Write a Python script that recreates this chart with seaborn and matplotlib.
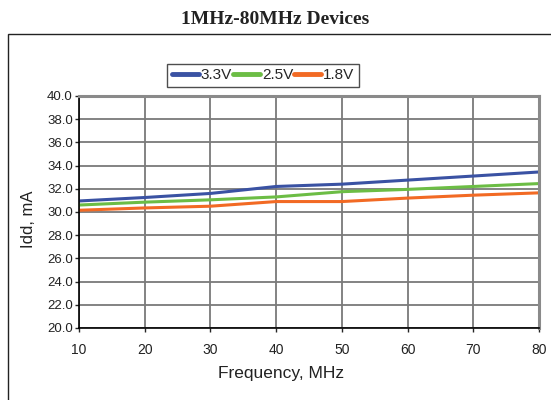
import numpy as np
import pandas as pd
import seaborn as sns
import matplotlib.pyplot as plt
from matplotlib.patches import Rectangle

freq = [10, 20, 30, 40, 50, 60, 70, 80]
idd_33 = [30.95, 31.25, 31.6, 32.2, 32.4, 32.75, 33.1, 33.45]
idd_25 = [30.6, 30.85, 31.05, 31.3, 31.75, 31.95, 32.2, 32.45]
idd_18 = [30.15, 30.35, 30.5, 30.9, 30.9, 31.2, 31.45, 31.65]
labels = ['3.3V', '2.5V', '1.8V']
colors = ['#3a52a3', '#6cbd45', '#f26a24']

df = pd.DataFrame({
    'freq': freq * 3,
    'idd': idd_33 + idd_25 + idd_18,
    'volt': [labels[0]] * 8 + [labels[1]] * 8 + [labels[2]] * 8,
})

sns.set_style('white')
plt.rcParams['font.family'] = ['Liberation Sans', 'DejaVu Sans']

fig = plt.figure(figsize=(5.51, 4.0), dpi=100)
ax = fig.add_axes([0.1434, 0.18, 0.8348, 0.58])

# outer frame of the figure panel
fig.patches.append(Rectangle((8 / 551, -0.05), 1.0, 1 - 34 / 400 + 0.05,
                             transform=fig.transFigure, fill=False,
                             edgecolor='#222222', linewidth=1.0, clip_on=False))

sns.lineplot(data=df, x='freq', y='idd', hue='volt', palette=colors,
             linewidth=2.2, ax=ax)

ax.set_xlim(10, 80)
ax.set_ylim(20, 40)
ax.set_xticks(freq)
ax.set_yticks(np.arange(20, 40.1, 2))
ax.set_yticklabels([f'{v:.1f}' for v in np.arange(20, 40.1, 2)])
ax.grid(True, color='#7a7a7a', linewidth=1.3)
ax.set_axisbelow(True)
ax.tick_params(axis='both', labelsize=9.5, length=3, width=1,
               direction='out', left=True, bottom=True, pad=1.5,
               labelcolor='#222222')
ax.tick_params(axis='x', pad=8, labelsize=10)

for s in ['left', 'bottom']:
    ax.spines[s].set_color('black')
    ax.spines[s].set_linewidth(1.2)
for s in ['top', 'right']:
    ax.spines[s].set_color('#8a8a8a')
    ax.spines[s].set_linewidth(2.2)

ax.set_xlabel('Frequency, MHz', fontsize=12.5, color='#222222')
ax.xaxis.set_label_coords(0.44, -0.162)
ax.set_ylabel('Idd, mA', fontsize=12, color='#222222')
ax.yaxis.set_label_coords(-0.094, 0.47)

leg = ax.legend(loc='lower center', bbox_to_anchor=(0.4, 1.04), ncol=3,
                frameon=True, fontsize=11, handlelength=1.8, handletextpad=0.1,
                columnspacing=0.05, borderpad=0.3, borderaxespad=0,
                fancybox=False)
leg.get_frame().set_edgecolor('#222222')
leg.get_frame().set_linewidth(1.0)
for line in leg.get_lines():
    line.set_linewidth(3.5)

fig.text(0.5, 1 - 19.5 / 400, '1MHz-80MHz Devices', ha='center', va='center',
         fontsize=14, fontweight='bold', family='Liberation Serif', color='#222222')

fig.savefig('out.png', dpi=100)
